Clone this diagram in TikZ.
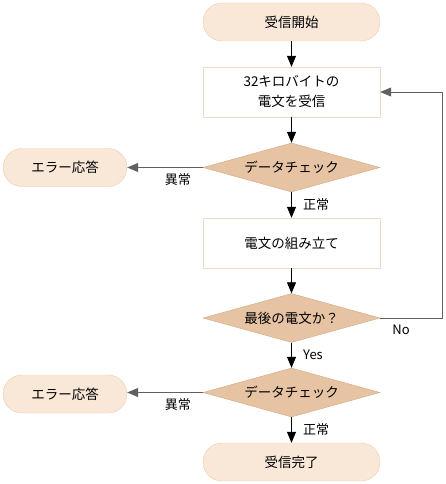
\documentclass[tikz,border=0pt]{standalone}
\usepackage{fontspec}
\setmainfont{Noto Sans CJK JP}
\usetikzlibrary{arrows.meta,shapes.geometric}

\definecolor{pillfill}{HTML}{F9E8D8}
\definecolor{pillline}{HTML}{EDCDAB}
\definecolor{boxline}{HTML}{EFDAC4}
\definecolor{chkfill}{HTML}{E6C4A3}
\definecolor{chkline}{HTML}{D2A882}
\definecolor{wire}{HTML}{606060}

\tikzset{
	every node/.style={font=\fontsize{13.5}{20}\selectfont},
	pill/.style={draw=pillline, fill=pillfill, rounded corners=19pt, minimum width=177pt, minimum height=38pt, inner sep=0pt},
	errpill/.style={pill, minimum width=124pt},
	stepbox/.style={draw=boxline, fill=white, minimum width=177pt, minimum height=50pt, inner sep=0pt, align=center},
	check/.style={diamond, draw=chkline, fill=chkfill, aspect=3.6, minimum width=177pt, minimum height=49pt, inner sep=0pt},
	flow/.style={-{Triangle[length=11pt,width=9pt]}, line width=0.8pt},
	side/.style={flow, draw=wire},
	tag/.style={font=\fontsize{13}{14}\selectfont}
}

\begin{document}
\begin{tikzpicture}[x=1pt, y=-1pt]
		\useasboundingbox (0,0) rectangle (445,484);
		\node[pill] (start) at (291.5,22) {受信開始};
		\node[stepbox] (recv) at (291.5,92) {32キロバイトの\\電文を受信};
		\node[check] (check1) at (291.5,167.5) {データチェック};
		\node[errpill] (err1) at (65,167.5) {エラー応答};
		\node[stepbox] (build) at (291.5,243) {電文の組み立て};
		\node[check] (last) at (291.5,318) {最後の電文か？};
		\node[check] (check2) at (291.5,392.5) {データチェック};
		\node[errpill] (err2) at (65,394) {エラー応答};
		\node[pill] (done) at (291.5,462) {受信完了};
		\coordinate (loopup) at (442,92);
		\draw[flow] (start) -- (recv);
		\draw[flow] (recv) -- (check1);
		\draw[side] (check1.west) -- (err1.east) node[tag, pos=0.33, below=2pt] {異常};
		\draw[flow] (check1) -- (build) node[tag, midway, right=8pt] {正常};
		\draw[flow] (build) -- (last);
		\draw[side] (last.east) -| (loopup) -- (recv.east);
		\node[tag] (nolabel) at (401,330) {No};
		\draw[flow] (last) -- (check2) node[tag, midway, right=8pt] {Yes};
		\draw[side] (check2.west) -- (err2.east |- check2.west) node[tag, pos=0.33, below=2pt] {異常};
		\draw[flow] (check2) -- (done) node[tag, midway, right=8pt] {正常};
\end{tikzpicture}
\end{document}
